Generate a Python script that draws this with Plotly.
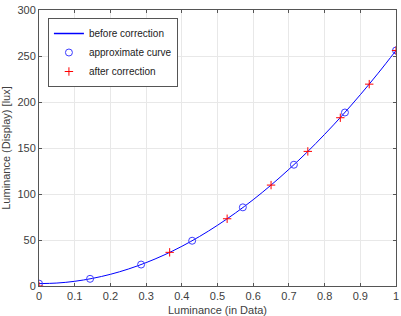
import plotly.graph_objects as go

# Curve "before correction"
curve_x = [0.0, 0.05, 0.1, 0.15, 0.2, 0.25, 0.3, 0.35, 0.4, 0.45, 0.5,
           0.55, 0.6, 0.65, 0.7, 0.75, 0.8, 0.85, 0.9, 0.95, 1.0]
curve_y = [2.6, 3.2, 5.1, 8.3, 12.7, 18.4, 25.4, 33.6, 43.1, 53.9, 66.0,
           79.3, 93.8, 109.7, 126.8, 145.1, 164.8, 185.7, 207.9, 231.3, 256.0]

# Approximate curve (circles)
approx_x = [0.0, 0.143, 0.286, 0.429, 0.571, 0.714, 0.857, 1.0]
approx_y = [2.6, 7.8, 23.3, 49.2, 85.5, 131.8, 188.6, 256.0]

# After correction (plus markers)
after_x = [0.0, 0.366, 0.527, 0.650, 0.753, 0.844, 0.925, 1.0]
after_y = [0.0, 36.6, 73.1, 109.7, 146.3, 182.9, 219.4, 256.0]

x_ticks = [0, 0.1, 0.2, 0.3, 0.4, 0.5, 0.6, 0.7, 0.8, 0.9, 1]
x_tick_text = ["0", "0.1", "0.2", "0.3", "0.4", "0.5", "0.6", "0.7", "0.8", "0.9", "1"]
y_ticks = [0, 50, 100, 150, 200, 250, 300]

FONT = "Liberation Sans, Arial, sans-serif"
TXT = "#404040"
AX = "#555555"
BLUE = "#0000ff"

fig = go.Figure()
fig.add_trace(go.Scatter(x=curve_x, y=curve_y, mode="lines", name="before correction",
                         showlegend=False, legendgroup="before",
                         line=dict(color=BLUE, width=1, shape="spline")))
# legend entry for the curve (no data of its own)
fig.add_trace(go.Scatter(x=[None], y=[None], mode="lines", name="before correction",
                         legendgroup="before", legendrank=1,
                         line=dict(color=BLUE, width=1.5)))
fig.add_trace(go.Scatter(x=approx_x, y=approx_y, mode="markers", name="approximate curve",
                         legendrank=2,
                         marker=dict(symbol="circle-open", size=7,
                                     color="rgb(60,60,255)", line=dict(width=1))))
fig.add_trace(go.Scatter(x=after_x, y=after_y, mode="markers", name="after correction",
                         legendrank=3,
                         marker=dict(symbol="cross-thin-open", size=6,
                                     color="rgb(255,0,0)", line=dict(width=1, color="rgb(255,0,0)"))))

axis_common = dict(showgrid=True, gridcolor="#e8e8e8", gridwidth=1, zeroline=False,
                   showline=True, linecolor=AX, linewidth=1, mirror="ticks",
                   ticks="inside", ticklen=3, tickcolor=AX, automargin=False,
                   tickfont=dict(family=FONT, size=11, color=TXT))

fig.update_layout(
    width=401, height=316,
    margin=dict(l=39, r=5, t=10, b=30),
    paper_bgcolor="white", plot_bgcolor="white",
    font=dict(family=FONT, size=10, color=TXT),
    showlegend=True,
    legend=dict(x=0.025, y=0.971, xanchor="left", yanchor="top",
                bgcolor="white", bordercolor=AX, borderwidth=1,
                font=dict(family=FONT, size=10, color="#222"),
                tracegroupgap=0, itemwidth=30, traceorder="normal"),
    xaxis=dict(range=[0, 1], tickvals=x_ticks, ticktext=x_tick_text,
               title=dict(text="Luminance (in Data)", font=dict(family=FONT, size=11, color=TXT), standoff=5),
               **axis_common),
    yaxis=dict(range=[0, 300], tickvals=y_ticks,
               title=dict(text="Luminance (Display) [lux]", font=dict(family=FONT, size=11, color=TXT), standoff=6),
               **axis_common),
)

fig.write_html("out.html")
